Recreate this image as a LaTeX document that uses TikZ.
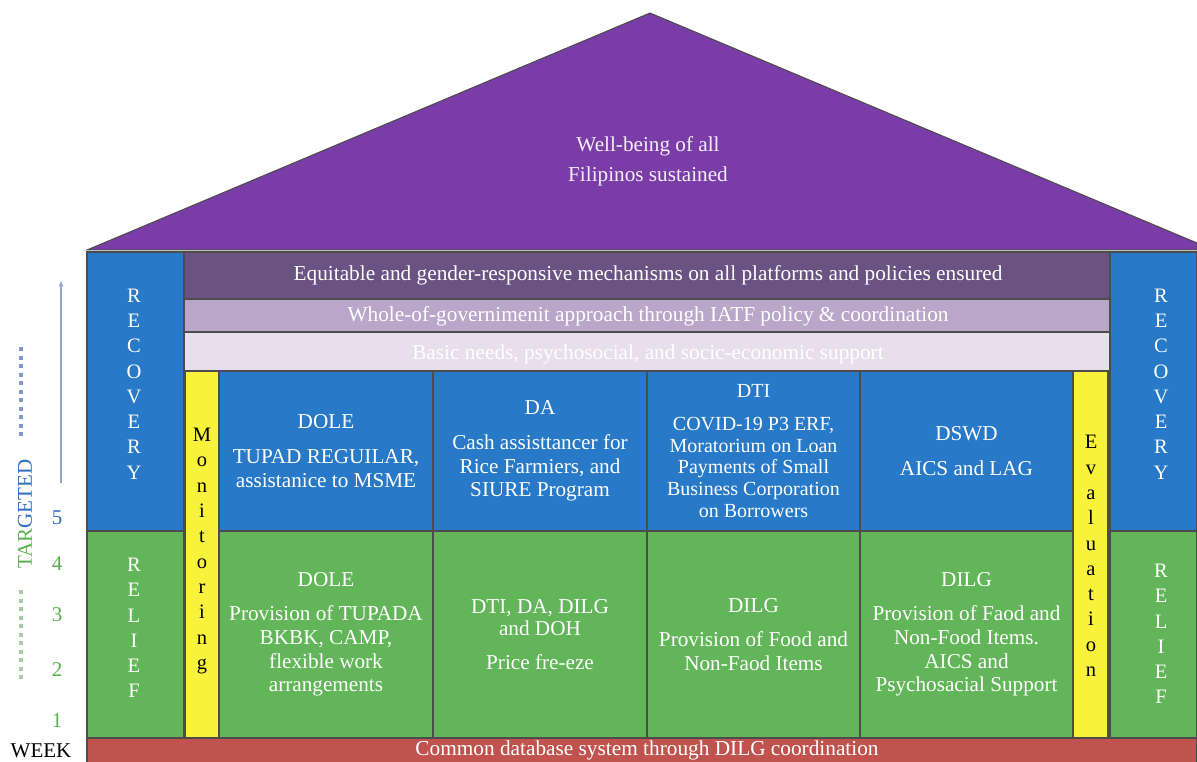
\documentclass[tikz,border=0pt]{standalone}
\usepackage{fontspec}
\setmainfont{Liberation Serif}
\usetikzlibrary{arrows.meta}
\definecolor{roofc}{HTML}{7A3CA6}
\definecolor{bluec}{HTML}{2879C7}
\definecolor{greenc}{HTML}{63B55A}
\definecolor{yellowc}{HTML}{F8F23C}
\definecolor{band1c}{HTML}{6A5283}
\definecolor{band2c}{HTML}{B9A6C9}
\definecolor{band3c}{HTML}{E7DFEB}
\definecolor{redc}{HTML}{C1534F}
\definecolor{axisblue}{HTML}{2A6EC0}
\definecolor{axisgreen}{HTML}{5AB04F}
\definecolor{arrowc}{HTML}{8FA8D2}
\definecolor{dotblue}{HTML}{7F9CC8}
\definecolor{dotgreen}{HTML}{A3CD9E}
\begin{document}
\begin{tikzpicture}[x=1pt,y=-1pt,
  box/.style={rectangle, draw=black!70, line width=1.6pt, anchor=north west, inner sep=0pt, outer sep=0pt},
  celltxt/.style={text=white, align=center, font=\fontsize{21.2}{23.8}\selectfont},
  vert/.style={align=center, font=\fontsize{20.5}{25.3}\selectfont},
  bandtxt/.style={font=\fontsize{21.3}{24}\selectfont},
  num/.style={font=\fontsize{21}{24}\selectfont}
]
\useasboundingbox (0,0) rectangle (1197,762);
% roof
\fill[roofc, draw=black!70, line width=1pt] (87,250) -- (650,13) -- (1197,243) -- (1197,250) -- cycle;
\node[text=white!92!roofc, align=center, font=\fontsize{21.2}{30}\selectfont] (roof) at (648,161) {Well-being of all\\Filipinos sustained};
% side columns
\node[box, fill=bluec, minimum width=97pt, minimum height=279pt] (recL) at (87,252) {};
\node[box, fill=greenc, minimum width=97pt, minimum height=207pt] (relL) at (87,531) {};
\node[box, fill=bluec, minimum width=87pt, minimum height=279pt] (recR) at (1110,252) {};
\node[box, fill=greenc, minimum width=87pt, minimum height=207pt] (relR) at (1110,531) {};
\node[vert, text=white] (recLt) at (134,384) {R\\E\\C\\O\\V\\E\\R\\Y};
\node[vert, text=white] (relLt) at (134,628) {R\\E\\L\\I\\E\\F};
\node[vert, text=white] (recRt) at (1161,384) {R\\E\\C\\O\\V\\E\\R\\Y};
\node[vert, text=white] (relRt) at (1161,634) {R\\E\\L\\I\\E\\F};
% bands
\node[box, fill=band1c, minimum width=926pt, minimum height=47pt] (b1) at (184,252) {};
\node[bandtxt, text=white] (b1t) at (648,275) {Equitable and gender-responsive mechanisms on all platforms and policies ensured};
\node[box, fill=band2c, minimum width=926pt, minimum height=33pt] (b2) at (184,299) {};
\node[bandtxt, text=white] (b2t) at (648,316) {Whole-of-governimenit approach through IATF policy \& coordination};
\node[box, fill=band3c, minimum width=926pt, minimum height=39pt] (b3) at (184,332) {};
\node[bandtxt, text=white] (b3t) at (648,354) {Basic needs, psychosocial, and socic-economic support};
% yellow columns
\node[box, fill=yellowc, minimum width=34pt, minimum height=367pt] (mon) at (185,371) {};
\node[vert, text=black] (mont) at (202,551) {M\\o\\n\\i\\t\\o\\r\\i\\n\\g};
\node[box, fill=yellowc, minimum width=35pt, minimum height=367pt] (eva) at (1073,371) {};
\node[vert, text=black] (evat) at (1091,556) {E\\v\\a\\l\\u\\a\\t\\i\\o\\n};
% blue cells
\node[box, fill=bluec, minimum width=214pt, minimum height=160pt, celltxt] (u1) at (219,371) {DOLE\\[11pt]TUPAD REGUILAR,\\assistanice to MSME};
\node[box, fill=bluec, minimum width=214pt, minimum height=160pt, celltxt] (u2) at (433,371) {DA\\[11pt]Cash assisttancer for\\Rice Farmiers, and\\SIURE Program};
\node[box, fill=bluec, minimum width=213pt, minimum height=160pt, celltxt, font=\fontsize{20}{21.8}\selectfont] (u3) at (647,371) {DTI\\[11pt]COVID-19 P3 ERF,\\Moratorium on Loan\\Payments of Small\\Business Corporation\\on Borrowers};
\node[box, fill=bluec, minimum width=213pt, minimum height=160pt, celltxt] (u4) at (860,371) {DSWD\\[11pt]AICS and LAG};
% green cells
\node[box, fill=greenc, minimum width=214pt, minimum height=207pt, celltxt] (g1) at (219,531) {DOLE\\[10pt]Provision of TUPADA\\BKBK, CAMP,\\flexible work\\arrangements};
\node[box, fill=greenc, minimum width=214pt, minimum height=207pt, celltxt, font=\fontsize{21.2}{22}\selectfont] (g2) at (433,531) {DTI, DA, DILG\\and DOH\\[12pt]Price fre-eze};
\node[box, fill=greenc, minimum width=213pt, minimum height=207pt, celltxt] (g3) at (647,531) {DILG\\[10pt]Provision of Food and\\Non-Faod Items};
\node[box, fill=greenc, minimum width=213pt, minimum height=207pt, celltxt] (g4) at (860,531) {DILG\\[10pt]Provision of Faod and\\Non-Food Items.\\AICS and\\Psychosacial Support};
% bottom bar
\node[box, fill=redc, minimum width=1110pt, minimum height=30pt] (db) at (87,738) {};
\node[bandtxt, text=white] (dbt) at (647,750) {Common database system through DILG coordination};
% left axis
\coordinate (arrbot) at (61,483);
\coordinate (arrtop) at (61,281);
\draw[arrowc, line width=1.6pt, -{Stealth[length=6pt,width=5pt]}] (arrbot) -- (arrtop);
\coordinate (dbt1) at (21,347);
\coordinate (dbt2) at (21,436);
\coordinate (dgt1) at (21,590);
\coordinate (dgt2) at (21,682);
\draw[dotblue, line width=4pt, dash pattern=on 4pt off 4.5pt] (dbt1) -- (dbt2);
\draw[dotgreen, line width=4pt, dash pattern=on 4pt off 4.5pt] (dgt1) -- (dgt2);
\node[rotate=90, font=\fontsize{21}{24}\selectfont] (tgt) at (25,514) {\textcolor{axisgreen}{TAR}\textcolor{axisblue}{GETED}};
\node[num, text=axisblue] (n5) at (57,518) {5};
\node[num, text=axisgreen] (n4) at (57,564) {4};
\node[num, text=axisgreen] (n3) at (57,615) {3};
\node[num, text=axisgreen] (n2) at (57,670) {2};
\node[num, text=axisgreen] (n1) at (57,721) {1};
\node[num, text=black] (wk) at (41,751) {WEEK};
\end{tikzpicture}
\end{document}
